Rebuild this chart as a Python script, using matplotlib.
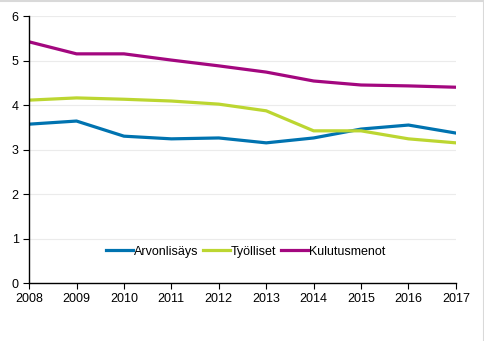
import matplotlib
matplotlib.use("Agg")
import matplotlib.pyplot as plt
from matplotlib.lines import Line2D

years = [2008, 2009, 2010, 2011, 2012, 2013, 2014, 2015, 2016, 2017]
arvonlisays = [3.57, 3.64, 3.30, 3.24, 3.26, 3.15, 3.26, 3.46, 3.55, 3.37]
tyolliset = [4.11, 4.16, 4.13, 4.09, 4.02, 3.87, 3.42, 3.42, 3.24, 3.15]
kulutusmenot = [5.42, 5.15, 5.15, 5.01, 4.88, 4.74, 4.54, 4.45, 4.43, 4.40]

plt.rcParams['font.family'] = ['Liberation Sans', 'DejaVu Sans']

fig = plt.figure(figsize=(4.85, 3.41), dpi=100)
# light frame on top and right, like the original
fig.add_artist(Line2D([0, 0.998], [0.997, 0.997], color='#d9d9d9', lw=1.5))
fig.add_artist(Line2D([0.998, 0.998], [0, 0.997], color='#d9d9d9', lw=1.5))
ax = fig.add_axes([0.060, 0.170, 0.880, 0.783])

ax.plot(years, arvonlisays, color='#0073b0', lw=2.3, label='Arvonlisäys')
ax.plot(years, tyolliset, color='#bcd631', lw=2.3, label='Työlliset')
ax.plot(years, kulutusmenot, color='#a3077f', lw=2.3, label='Kulutusmenot')

ax.set_xlim(2008, 2017)
ax.set_ylim(0, 6)
ax.set_xticks(years)
ax.set_yticks(range(7))
ax.tick_params(labelsize=9, length=4, width=0.8, color='black')
ax.grid(axis='y', color='#ebebeb', lw=0.8)
ax.set_axisbelow(True)
for s in ['top', 'right']:
    ax.spines[s].set_visible(False)
for s in ['left', 'bottom']:
    ax.spines[s].set_linewidth(1.0)

ax.legend(loc='center', bbox_to_anchor=(0.508, 0.117), ncol=3, frameon=False,
          fontsize=9, handlelength=2.1, handletextpad=0.1, columnspacing=0.4)

fig.savefig('out.png', dpi=100)
